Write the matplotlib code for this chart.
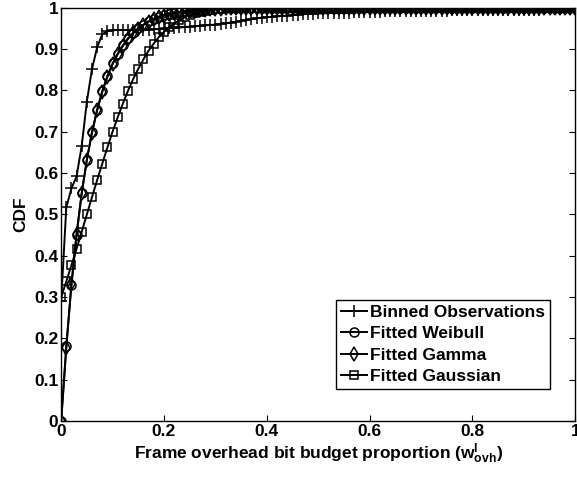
import numpy as np
import matplotlib
matplotlib.use("Agg")
import matplotlib.pyplot as plt

plt.rcParams['font.family'] = ['Liberation Sans', 'DejaVu Sans']
plt.rcParams['font.weight'] = 'bold'
plt.rcParams['mathtext.fontset'] = 'custom'
plt.rcParams['mathtext.rm'] = 'Liberation Sans:bold'
plt.rcParams['mathtext.it'] = 'Liberation Sans:bold'
plt.rcParams['mathtext.bf'] = 'Liberation Sans:bold'
plt.rcParams['mathtext.default'] = 'bf'

# bins of the overhead proportion, 0.00 .. 1.00
x = np.linspace(0, 1, 101)

binned = ([0.290, 0.517, 0.563, 0.592, 0.666, 0.773, 0.852, 0.904, 0.936, 0.943,
           0.945, 0.946, 0.946, 0.946, 0.946, 0.947, 0.947, 0.947, 0.948, 0.948,
           0.949, 0.950, 0.951, 0.952, 0.953, 0.954, 0.955, 0.956, 0.957, 0.958,
           0.959, 0.961, 0.962, 0.964, 0.966, 0.968, 0.970, 0.972, 0.974, 0.976,
           0.977, 0.978, 0.979, 0.980, 0.981, 0.982, 0.983, 0.984, 0.985, 0.985,
           0.986, 0.986, 0.987, 0.987, 0.988, 0.988, 0.988, 0.989, 0.989, 0.989,
           0.990, 0.990, 0.990, 0.991, 0.991, 0.991, 0.991, 0.992, 0.992, 0.992,
           0.992]
          + [0.993] * 5 + [0.994] * 8 + [0.995] * 10 + [0.996] * 7)

weibull = ([0.0, 0.181, 0.330, 0.451, 0.551, 0.632, 0.699, 0.753, 0.798, 0.835,
            0.865, 0.889, 0.909, 0.926, 0.939, 0.950, 0.959, 0.967, 0.973, 0.978,
            0.982, 0.985, 0.988, 0.990, 0.992, 0.993, 0.994, 0.995, 0.996, 0.997,
            0.998, 0.998, 0.998, 0.999, 0.999]
           + [0.999] * 10 + [1.0] * 56)

gamma = ([0.0, 0.178, 0.331, 0.452, 0.552, 0.632, 0.698, 0.752, 0.797, 0.833,
          0.863, 0.887, 0.907, 0.924, 0.938, 0.949, 0.958, 0.966, 0.972, 0.977,
          0.981, 0.984, 0.987, 0.989, 0.991, 0.992, 0.993, 0.994, 0.995, 0.996,
          0.997, 0.997, 0.998, 0.998, 0.999]
         + [0.999] * 12 + [1.0] * 54)

gaussian = ([0.300, 0.338, 0.377, 0.417, 0.458, 0.500, 0.542, 0.583, 0.623, 0.662,
             0.700, 0.735, 0.768, 0.799, 0.827, 0.852, 0.875, 0.896, 0.913, 0.929,
             0.942, 0.953, 0.962, 0.970, 0.977, 0.982, 0.986, 0.989, 0.992, 0.994,
             0.996, 0.997, 0.998, 0.998, 0.999, 0.999]
            + [0.999] * 6 + [1.0] * 59)

fig = plt.figure(figsize=(5.77, 4.78), dpi=100)
ax = fig.add_axes([0.106, 0.119, 0.891, 0.865])

common = dict(color='k', lw=1.4, mfc='none', mec='k', mew=1.1)
ax.plot(x, binned, marker='+', ms=8, label='Binned Observations', **common)
ax.plot(x, weibull, marker='o', ms=6.5, label='Fitted Weibull', **common)
ax.plot(x, gamma, marker='d', ms=7, label='Fitted Gamma', **common)
ax.plot(x, gaussian, marker='s', ms=5.5, label='Fitted Gaussian', **common)

ax.set_xlim(0, 1)
ax.set_ylim(0, 1)
ax.set_xticks([0, 0.2, 0.4, 0.6, 0.8, 1])
ax.set_xticklabels(['0', '0.2', '0.4', '0.6', '0.8', '1'])
ax.set_yticks(np.arange(0, 11) / 10)
ax.set_yticklabels(['0', '0.1', '0.2', '0.3', '0.4', '0.5', '0.6', '0.7', '0.8', '0.9', '1'])
ax.tick_params(direction='in', top=True, right=True, length=4, width=0.8,
               labelsize=12.5, pad=2)
for lab in ax.get_xticklabels() + ax.get_yticklabels():
    lab.set_fontweight('bold')
for s in ax.spines.values():
    s.set_linewidth(1.0)

ax.set_xlabel('Frame overhead bit budget proportion (w$^{l}_{ovh}$)',
              fontsize=12.5, fontweight='bold', labelpad=2)
ax.set_ylabel('CDF', fontsize=12.5, fontweight='bold', labelpad=4)

leg = ax.legend(loc='lower right', bbox_to_anchor=(0.951, 0.077), fontsize=12.5,
                handlelength=1.5, handletextpad=0.15, borderpad=0.3,
                labelspacing=0.36, borderaxespad=0.0, fancybox=False,
                edgecolor='k', framealpha=1)
leg.get_frame().set_linewidth(1.0)
for t in leg.get_texts():
    t.set_fontweight('bold')

fig.savefig('out.png', dpi=100)
